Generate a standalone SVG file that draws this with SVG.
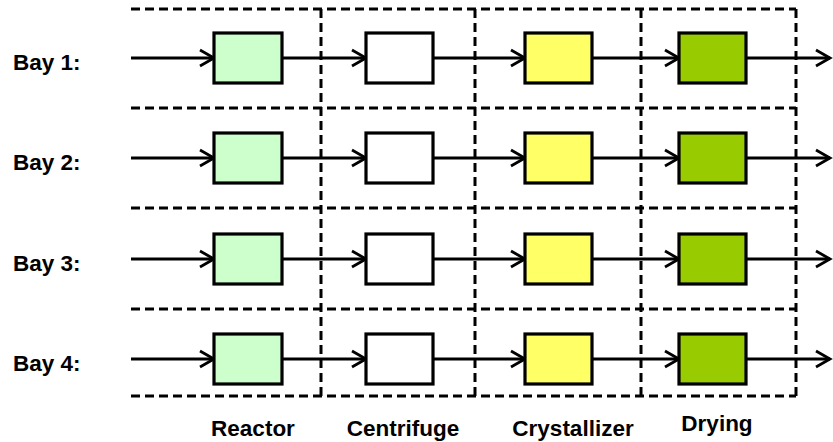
<svg xmlns="http://www.w3.org/2000/svg" width="833" height="442" viewBox="0 0 833 442">
  <style>
    .grid { stroke: #000; stroke-width: 3; stroke-dasharray: 9 5; fill: none; }
    .box { stroke: #000; stroke-width: 3.2; }
    .reactor { fill: #CCFFCC; }
    .centrifuge { fill: #FFFFFF; }
    .crystallizer { fill: #FFFF66; }
    .drying { fill: #99CC00; }
    .flow { stroke: #000; stroke-width: 2.8; fill: none; marker-end: url(#chevron); }
    .label { font-family: "Liberation Sans", Arial, sans-serif; font-weight: bold; font-size: 22.5px; fill: #000; }
  </style>
  <defs>
    <marker id="chevron" markerUnits="userSpaceOnUse" markerWidth="18" markerHeight="20" refX="15" refY="10" orient="auto" overflow="visible">
      <path d="M1,2 L15,10 L1,18" fill="none" stroke="#000" stroke-width="2.8"/>
    </marker>
  </defs>

  <rect width="833" height="442" fill="#fff"/>

  <!-- dashed grid: one column per process stage, one row per bay -->
  <g id="grid" class="grid">
    <line x1="131" y1="9" x2="796" y2="9"/>
    <line x1="131" y1="108" x2="796" y2="108"/>
    <line x1="131" y1="208" x2="796" y2="208"/>
    <line x1="131" y1="309" x2="796" y2="309"/>
    <line x1="131" y1="396" x2="796" y2="396"/>
    <line x1="321" y1="9" x2="321" y2="396"/>
    <line x1="475" y1="9" x2="475" y2="396"/>
    <line x1="641" y1="9" x2="641" y2="396"/>
    <line x1="796" y1="9" x2="796" y2="396"/>
  </g>

  <!-- flow connectors -->
  <g id="connectors">
    <line class="flow" x1="131" y1="58" x2="214" y2="58"/>
    <line class="flow" x1="282" y1="58" x2="366" y2="58"/>
    <line class="flow" x1="433" y1="58" x2="525" y2="58"/>
    <line class="flow" x1="592" y1="58" x2="679" y2="58"/>
    <line class="flow" x1="746" y1="58" x2="830" y2="58"/>

    <line class="flow" x1="131" y1="158" x2="214" y2="158"/>
    <line class="flow" x1="282" y1="158" x2="366" y2="158"/>
    <line class="flow" x1="433" y1="158" x2="525" y2="158"/>
    <line class="flow" x1="592" y1="158" x2="679" y2="158"/>
    <line class="flow" x1="746" y1="158" x2="830" y2="158"/>

    <line class="flow" x1="131" y1="259" x2="214" y2="259"/>
    <line class="flow" x1="282" y1="259" x2="366" y2="259"/>
    <line class="flow" x1="433" y1="259" x2="525" y2="259"/>
    <line class="flow" x1="592" y1="259" x2="679" y2="259"/>
    <line class="flow" x1="746" y1="259" x2="830" y2="259"/>

    <line class="flow" x1="131" y1="359" x2="214" y2="359"/>
    <line class="flow" x1="282" y1="359" x2="366" y2="359"/>
    <line class="flow" x1="433" y1="359" x2="525" y2="359"/>
    <line class="flow" x1="592" y1="359" x2="679" y2="359"/>
    <line class="flow" x1="746" y1="359" x2="830" y2="359"/>
  </g>

  <!-- Bay 1 -->
  <g id="bay1-reactor"><rect class="box reactor" x="214" y="33" width="68" height="50"/></g>
  <g id="bay1-centrifuge"><rect class="box centrifuge" x="366" y="33" width="67" height="50"/></g>
  <g id="bay1-crystallizer"><rect class="box crystallizer" x="525" y="33" width="67" height="50"/></g>
  <g id="bay1-drying"><rect class="box drying" x="679" y="33" width="67" height="50"/></g>

  <!-- Bay 2 -->
  <g id="bay2-reactor"><rect class="box reactor" x="214" y="133" width="68" height="50"/></g>
  <g id="bay2-centrifuge"><rect class="box centrifuge" x="366" y="133" width="67" height="50"/></g>
  <g id="bay2-crystallizer"><rect class="box crystallizer" x="525" y="133" width="67" height="50"/></g>
  <g id="bay2-drying"><rect class="box drying" x="679" y="133" width="67" height="50"/></g>

  <!-- Bay 3 -->
  <g id="bay3-reactor"><rect class="box reactor" x="214" y="234" width="68" height="50"/></g>
  <g id="bay3-centrifuge"><rect class="box centrifuge" x="366" y="234" width="67" height="50"/></g>
  <g id="bay3-crystallizer"><rect class="box crystallizer" x="525" y="234" width="67" height="50"/></g>
  <g id="bay3-drying"><rect class="box drying" x="679" y="234" width="67" height="50"/></g>

  <!-- Bay 4 -->
  <g id="bay4-reactor"><rect class="box reactor" x="214" y="334" width="68" height="50"/></g>
  <g id="bay4-centrifuge"><rect class="box centrifuge" x="366" y="334" width="67" height="50"/></g>
  <g id="bay4-crystallizer"><rect class="box crystallizer" x="525" y="334" width="67" height="50"/></g>
  <g id="bay4-drying"><rect class="box drying" x="679" y="334" width="67" height="50"/></g>

  <!-- row labels -->
  <g id="row-labels" class="label">
    <text x="13" y="70">Bay 1:</text>
    <text x="13" y="170">Bay 2:</text>
    <text x="13" y="271">Bay 3:</text>
    <text x="13" y="371">Bay 4:</text>
  </g>

  <!-- column labels -->
  <g id="column-labels" class="label" text-anchor="middle">
    <text x="253" y="436">Reactor</text>
    <text x="403" y="436">Centrifuge</text>
    <text x="573" y="436">Crystallizer</text>
    <text x="717" y="431">Drying</text>
  </g>
</svg>
